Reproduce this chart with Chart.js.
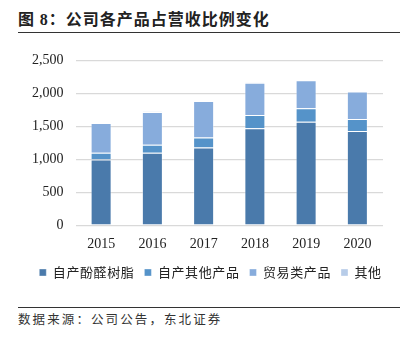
<!DOCTYPE html>
<html>
<head>
<meta charset="utf-8">
<script src="https://cdn.jsdelivr.net/npm/chart.js@4"></script>
<style>
  body { margin: 0; background: #fff; width: 410px; height: 340px; overflow: hidden; position: relative; font-family: "Noto Sans CJK SC", sans-serif; }
  #title { position: absolute; left: 18px; top: 6px; font-size: 16px; font-weight: bold; color: #222; letter-spacing: 1px; }
  #title .num { font-family: "Liberation Serif", serif; }
  #line1 { position: absolute; left: 18px; top: 32px; width: 382px; height: 0; border-top: 1.5px solid #333; }
  #line2 { position: absolute; left: 18px; top: 307px; width: 382px; height: 0; border-top: 1px solid #333; }
  #src { position: absolute; left: 18px; top: 309px; font-size: 12.5px; color: #333; letter-spacing: 2.1px; }
  #wrap { position: absolute; left: 0; top: 40px; width: 410px; height: 249px; }
</style>
</head>
<body>
<div id="title">图 <span class="num">8</span>：公司各产品占营收比例变化</div>
<div id="line1"></div>
<div id="wrap"><canvas id="mycanvas"></canvas></div>
<div id="line2"></div>
<div id="src">数据来源：公司公告，东北证券</div>
<script>
var years = ['2015', '2016', '2017', '2018', '2019', '2020'];
var resin = [998, 1100, 1178, 1471, 1569, 1430];
var otherOwn = [102, 119, 154, 201, 206, 180];
var trade = [450, 500, 551, 489, 422, 417];
var others = [4, 5, 5, 5, 5, 5];

var chartdata = {
  labels: years,
  datasets: [
    { label: '自产酚醛树脂', data: resin, backgroundColor: '#4a7aab' },
    { label: '自产其他产品', data: otherOwn, backgroundColor: '#5593c9' },
    { label: '贸易类产品', data: trade, backgroundColor: '#87acdc' },
    { label: '其他', data: others, backgroundColor: '#b7cce8' }
  ]
};
chartdata.datasets.forEach(function (d) {
  d.borderColor = 'rgba(255,255,255,0.35)';
  d.borderWidth = 1;
  d.barPercentage = 0.41;
  d.categoryPercentage = 1;
});

var ctx = document.getElementById('mycanvas');
var barGraph = new Chart(ctx, {
  type: 'bar',
  data: chartdata,
  options: {
    responsive: true,
    maintainAspectRatio: false,
    animation: false,
    layout: { padding: { left: 8, right: 27, top: 19, bottom: 0 } },
    plugins: {
      legend: {
        position: 'bottom',
        labels: {
          boxWidth: 7, boxHeight: 7, padding: 10,
          color: '#222',
          font: { family: '"Noto Sans CJK SC"', size: 13 }
        }
      },
      tooltip: { enabled: false }
    },
    scales: {
      x: {
        stacked: true,
        grid: { display: false },
        border: { display: false },
        ticks: { color: '#222', font: { family: '"Liberation Serif"', size: 14 } }
      },
      y: {
        stacked: true,
        min: 0, max: 2500,
        afterFit: function (s) { s.width += 12; },
        ticks: { stepSize: 500, padding: 12, color: '#222', font: { family: '"Liberation Serif"', size: 14 } },
        grid: { color: '#d9d9d9', lineWidth: 1.2, drawTicks: false },
        border: { display: false }
      }
    }
  }
});

// wider character spacing for the legend text, and shift it a bit right, like the reference
var proto = Object.getPrototypeOf(barGraph.legend);
['fit', 'draw'].forEach(function (m) {
  var orig = proto[m];
  proto[m] = function () {
    var c = this.ctx;
    c.save();
    c.letterSpacing = '0.6px';
    if (m === 'draw') c.translate(15, 0);
    orig.apply(this, arguments);
    c.restore();
  };
});
barGraph.update();
</script>
</body>
</html>
